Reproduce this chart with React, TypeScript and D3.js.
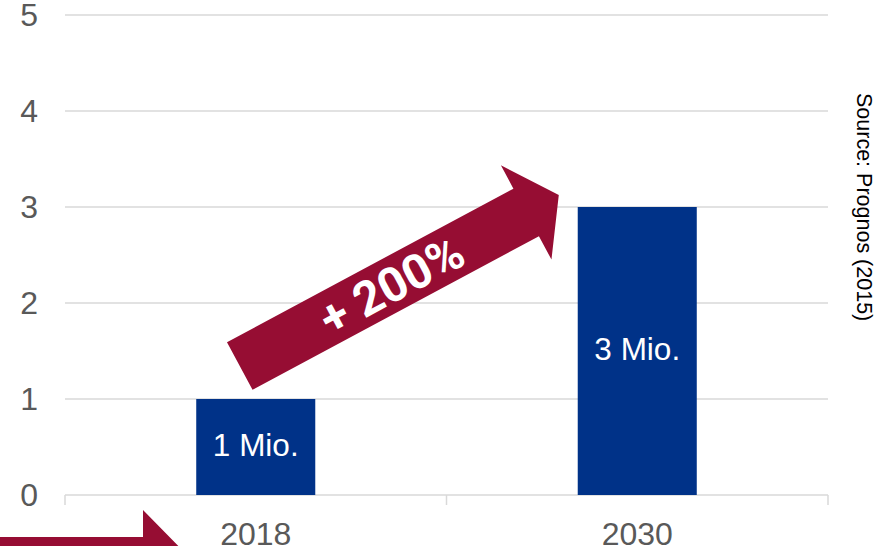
import React from "react";
import * as d3 from "d3";

const categories = ["2018", "2030"];
const values = [1, 3];
const barLabels = ["1 Mio.", "3 Mio."];
const yTicks = [0, 1, 2, 3, 4, 5];
const growthLabel = "+ 200%";
const sourceText = "Source: Prognos (2015)";

const W = 886;
const H = 546;
const BLUE = "#003288";
const MAROON = "#960D33";
const GRID = "#D9D9D9";
const TEXT = "#595959";
const FONT = "'Liberation Sans', Arial, sans-serif";

export default function App() {
  const x = d3.scaleBand<string>().domain(categories).range([65, 828]).paddingInner(0).paddingOuter(0);
  const y = d3.scaleLinear().domain([0, 5]).range([495, 15]);
  const barW = x.bandwidth() * 0.312;

  // growth arrow, in its own frame (u along, v across), anchored on the bars
  const c0x = (x(categories[0]) as number) + x.bandwidth() / 2 - 16;
  const c0y = y(values[0]) - 33;
  const angle = -28.2;
  const shaftLen = 325, shaftHalf = 27, headHalf = 53.5, tipLen = 362;
  const arrowPts: [number, number][] = [
    [0, -shaftHalf], [shaftLen, -shaftHalf], [shaftLen, -headHalf], [tipLen, 0],
    [shaftLen, headHalf], [shaftLen, shaftHalf], [0, shaftHalf],
  ];
  const line = d3.line();

  // bottom decorative arrow (mostly off-canvas)
  const bottomPts: [number, number][] = [
    [-10, -27], [143, -27], [143, -54], [196, 0], [143, 54], [143, 27], [-10, 27],
  ];

  return (
    <svg width={W} height={H} style={{ position: "absolute", left: 0, top: 0, background: "#fff" }} fontFamily={FONT}>
      {/* gridlines */}
      {yTicks.filter((t) => t > 0).map((t) => (
        <line key={t} x1={65} x2={828} y1={y(t)} y2={y(t)} stroke={GRID} strokeWidth={1.5} />
      ))}
      {/* axis */}
      <line x1={65} x2={828} y1={y(0)} y2={y(0)} stroke={GRID} strokeWidth={1.5} />
      {[0, 1, 2].map((i) => {
        const xv = 65 + i * x.bandwidth();
        return <line key={i} x1={xv} x2={xv} y1={y(0)} y2={y(0) + 10} stroke={GRID} strokeWidth={1.5} />;
      })}
      {/* y labels */}
      {yTicks.map((t) => (
        <text key={t} x={38} y={y(t)} dy="0.35em" textAnchor="end" fontSize={32} fill={TEXT}>{t}</text>
      ))}
      {/* bars */}
      {categories.map((c, i) => {
        const cx = (x(c) as number) + x.bandwidth() / 2;
        return (
          <g key={c}>
            <rect x={cx - barW / 2} y={y(values[i])} width={barW} height={y(0) - y(values[i])} fill={BLUE} />
            <text x={cx} y={(y(values[i]) + y(0)) / 2 - 2} dy="0.35em" textAnchor="middle" fontSize={31.5} fill="#fff">{barLabels[i]}</text>
            <text x={cx} y={545} textAnchor="middle" fontSize={32} fill={TEXT}>{c}</text>
          </g>
        );
      })}
      {/* growth arrow */}
      <g transform={`translate(${c0x},${c0y}) rotate(${angle})`}>
        <path d={line(arrowPts) + "Z"} fill={MAROON} />
        <text x={172} y={0} dy="0.36em" textAnchor="middle" fontSize={48} fontWeight="bold" fontFamily="Roboto, 'Liberation Sans', sans-serif" fill="#fff">{growthLabel}</text>
      </g>
      {/* bottom arrow */}
      <g transform={`translate(0,564)`}>
        <path d={line(bottomPts) + "Z"} fill={MAROON} />
      </g>
      {/* source */}
      <text transform="translate(857,93) rotate(90)" fontSize={21.5} fill="#000">{sourceText}</text>
    </svg>
  );
}
